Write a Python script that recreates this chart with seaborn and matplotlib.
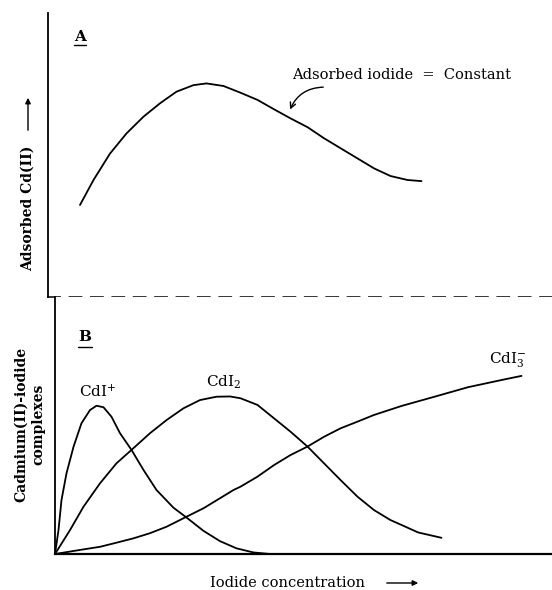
import numpy as np
import pandas as pd
import matplotlib
matplotlib.use("Agg")
import matplotlib.pyplot as plt
import seaborn as sns

# Panel A: adsorbed Cd(II) at constant adsorbed iodide (arbitrary units)
a_x = [0.50, 0.77, 1.10, 1.43, 1.77, 2.10, 2.43, 2.77, 3.03, 3.37, 3.70, 4.05,
       4.38, 4.71, 5.05, 5.38, 5.71, 6.05, 6.38, 6.71, 7.05, 7.33]
a_y = [3.24, 4.12, 5.05, 5.76, 6.35, 6.82, 7.23, 7.46, 7.52, 7.43, 7.20, 6.94,
       6.61, 6.29, 5.98, 5.59, 5.24, 4.88, 4.53, 4.26, 4.12, 4.08]

# Panel B: cadmium(II)-iodide complexes vs iodide concentration
cdi_x = [0.0, 0.07, 0.13, 0.23, 0.37, 0.53, 0.70, 0.83, 0.97, 1.13, 1.30, 1.53,
         1.77, 2.03, 2.37, 2.63, 2.97, 3.30, 3.63, 3.97, 4.30]
cdi_y = [0.0, 0.93, 2.10, 3.14, 4.17, 5.09, 5.60, 5.77, 5.71, 5.34, 4.70, 4.05,
         3.27, 2.49, 1.80, 1.42, 0.90, 0.50, 0.22, 0.06, 0.0]

cdi2_x = [0.0, 0.30, 0.57, 0.90, 1.23, 1.53, 1.90, 2.23, 2.57, 2.90, 3.23, 3.50,
          3.71, 4.05, 4.38, 4.71, 5.05, 5.38, 5.71, 6.05, 6.38, 6.71, 6.93, 7.26, 7.73]
cdi2_y = [0.0, 0.93, 1.84, 2.75, 3.53, 4.05, 4.70, 5.21, 5.67, 5.99, 6.12, 6.13,
          6.06, 5.80, 5.28, 4.76, 4.18, 3.53, 2.88, 2.23, 1.71, 1.32, 1.13, 0.84, 0.63]

cdi3_x = [0.0, 0.57, 0.90, 1.23, 1.57, 1.90, 2.23, 2.63, 2.97, 3.30, 3.57, 3.71,
          4.05, 4.38, 4.71, 5.05, 5.38, 5.71, 6.05, 6.38, 6.93, 7.59, 8.26, 8.93, 9.33]
cdi3_y = [0.0, 0.18, 0.28, 0.44, 0.61, 0.81, 1.06, 1.45, 1.78, 2.17, 2.49, 2.62,
          3.01, 3.46, 3.85, 4.18, 4.56, 4.89, 5.15, 5.41, 5.76, 6.12, 6.49, 6.77, 6.93]

species = ["CdI+", "CdI2", "CdI3-"]
species_labels = [r"CdI$^{+}$", r"CdI$_{2}$", r"CdI$_{3}^{-}$"]
label_pos = [(0.86, 6.30), (3.38, 6.69), (9.06, 7.55)]

sns.set_style("white")
plt.rcParams["font.family"] = ["DejaVu Serif", "DejaVu Sans"]
plt.rcParams["mathtext.fontset"] = "dejavuserif"
plt.rcParams["text.color"] = "black"

df_a = pd.DataFrame({"x": a_x, "y": a_y})
df_b = pd.concat([
    pd.DataFrame({"x": cdi_x, "y": cdi_y, "species": species[0]}),
    pd.DataFrame({"x": cdi2_x, "y": cdi2_y, "species": species[1]}),
    pd.DataFrame({"x": cdi3_x, "y": cdi3_y, "species": species[2]}),
], ignore_index=True)

W, H = 552, 590
fig = plt.figure(figsize=(W / 100, H / 100), dpi=100)
ax_a = fig.add_axes([48 / W, 1 - 297 / H, (552 - 48) / W, (297 - 13) / H])
ax_b = fig.add_axes([55 / W, 1 - 554 / H, (552 - 55) / W, (554 - 297) / H])

lw = 1.3

# --- panel A ---
sns.lineplot(data=df_a, x="x", y="y", ax=ax_a, color="black", lw=lw, sort=False,
             solid_joinstyle="round")
ax_a.set_xlim(-0.14, 9.94)
ax_a.set_ylim(0, 10)
for s in ["top", "right"]:
    ax_a.spines[s].set_visible(False)
ax_a.spines["left"].set_linewidth(lw)
ax_a.spines["left"].set_color("black")
ax_a.spines["bottom"].set_linewidth(1.1)
ax_a.spines["bottom"].set_color("black")
ax_a.spines["bottom"].set_linestyle((0, (8, 6)))
ax_a.set_xticks([])
ax_a.set_yticks([])
ax_a.set_xlabel("")
ax_a.set_ylabel("")

ax_a.text(0.5, 9.15, "A", fontsize=11, fontweight="bold", ha="center", va="center")
ax_a.plot([0.38, 0.62], [8.87, 8.87], color="black", lw=1.0)

ax_a.text(6.94, 7.82, "Adsorbed iodide  =  Constant", fontsize=10.5,
          ha="center", va="center")
ax_a.annotate("", xy=(4.68, 6.51), xytext=(5.42, 7.39),
              arrowprops=dict(arrowstyle="->", lw=1.0, color="black",
                              connectionstyle="arc3,rad=0.35"))

# --- panel B ---
sns.lineplot(data=df_b, x="x", y="y", hue="species", ax=ax_b, sort=False,
             palette={k: "black" for k in species}, lw=lw, legend=False,
             solid_joinstyle="round")
ax_b.set_xlim(0, 9.94)
ax_b.set_ylim(0, 10)
for s in ["top", "right"]:
    ax_b.spines[s].set_visible(False)
ax_b.spines["left"].set_linewidth(lw)
ax_b.spines["left"].set_color("black")
ax_b.spines["bottom"].set_linewidth(lw + 0.3)
ax_b.spines["bottom"].set_color("black")
ax_b.set_xticks([])
ax_b.set_yticks([])
ax_b.set_xlabel("")
ax_b.set_ylabel("")

ax_b.text(0.6, 8.44, "B", fontsize=11, fontweight="bold", ha="center", va="center")
ax_b.plot([0.46, 0.74], [8.05, 8.05], color="black", lw=1.0)

for lab, (lx, ly) in zip(species_labels, label_pos):
    ax_b.text(lx, ly, lab, fontsize=11, ha="center", va="center")

# axis titles with arrows
fig.text(28 / W, 1 - 208 / H, "Adsorbed Cd(II)", rotation=90, fontsize=10,
         fontweight="bold", ha="center", va="center")
fig.text(30 / W, 1 - 424 / H, "Cadmium(II)-iodide\ncomplexes", rotation=90,
         fontsize=10, fontweight="bold", ha="center", va="center",
         linespacing=1.3, multialignment="center")
fig.text(288 / W, 1 - 583 / H, "Iodide concentration", fontsize=10.5,
         ha="center", va="center")

arrow_kw = dict(arrowstyle="-|>", lw=1.0, color="black", mutation_scale=8)
fig.add_artist(matplotlib.patches.FancyArrowPatch(
    (28 / W, 1 - 133 / H), (28 / W, 1 - 95 / H), transform=fig.transFigure, **arrow_kw))
fig.add_artist(matplotlib.patches.FancyArrowPatch(
    (384 / W, 1 - 583 / H), (421 / W, 1 - 583 / H), transform=fig.transFigure, **arrow_kw))

fig.savefig("out.png", dpi=100, facecolor="white")
plt.close(fig)
